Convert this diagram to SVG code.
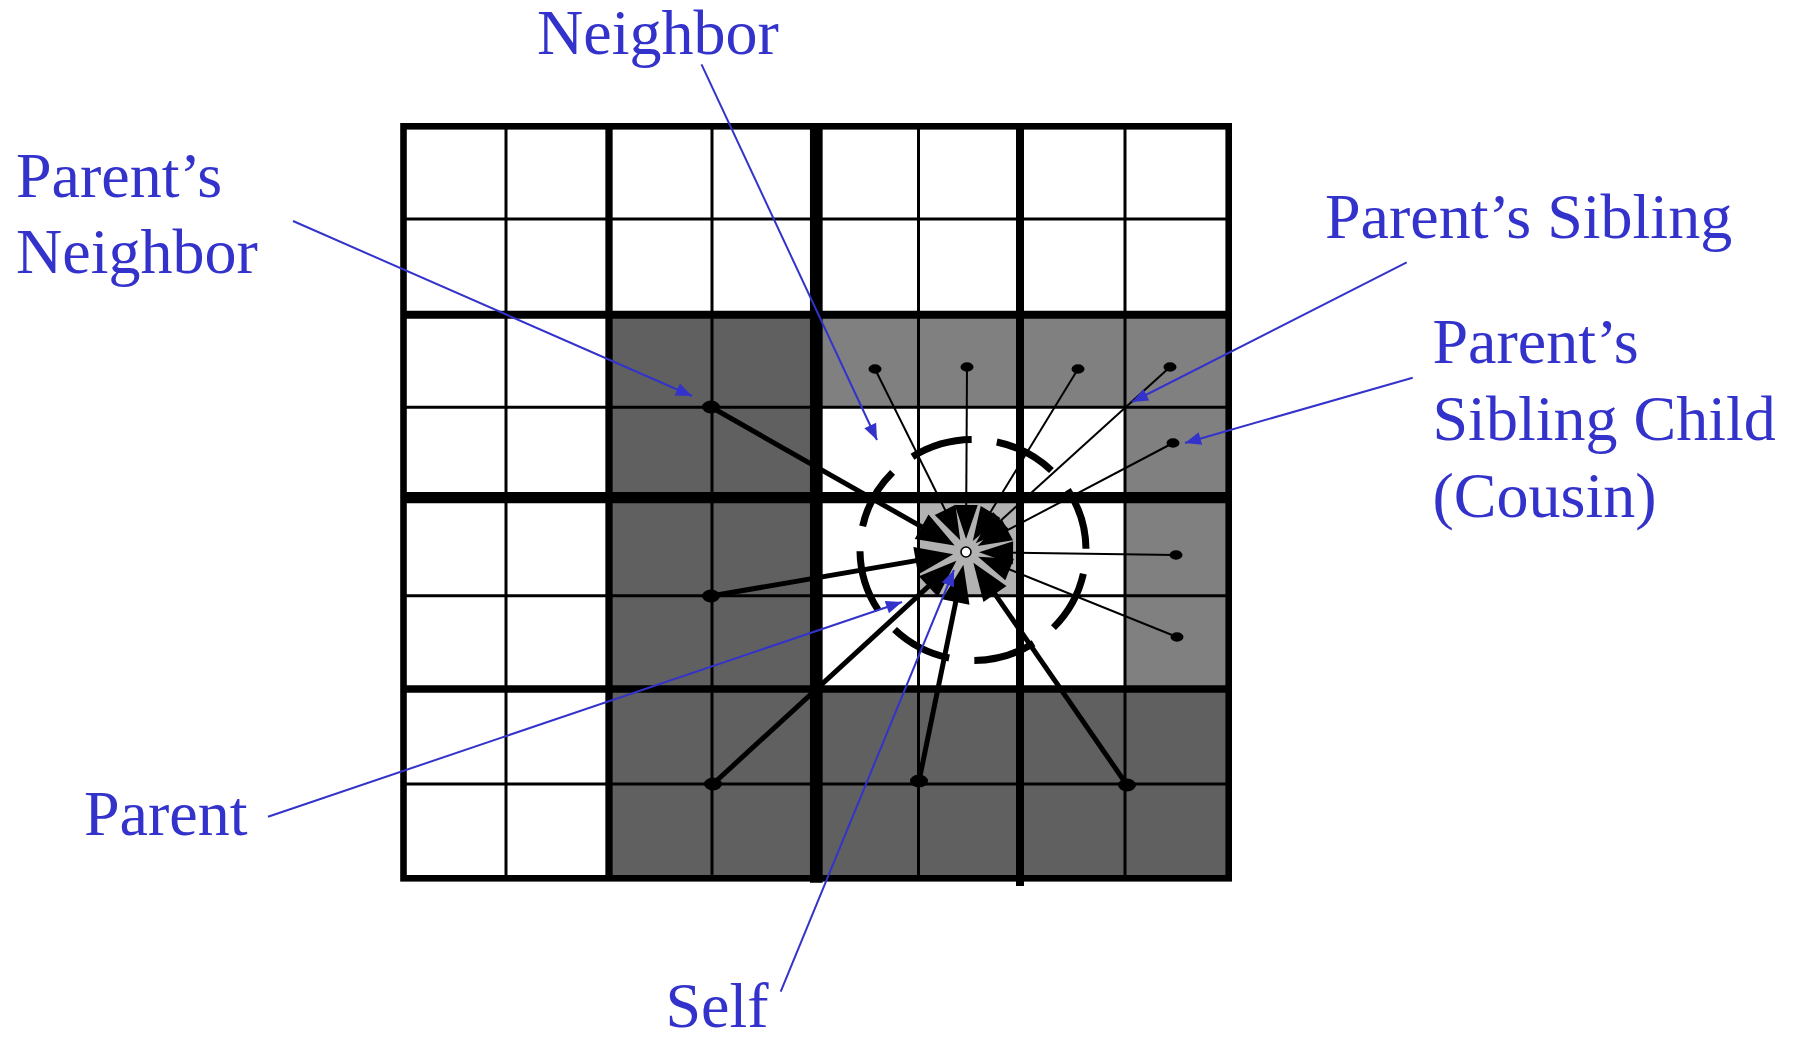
<svg xmlns="http://www.w3.org/2000/svg" width="1798" height="1041" viewBox="0 0 1798 1041">
<style>
.lbl{font-family:"Liberation Serif","Times New Roman",serif;font-size:64px;fill:#3333cc}
.thin{stroke:#000;stroke-width:3}
.blue{stroke:#3333cc;stroke-width:2;fill:none;marker-end:url(#blueArrow)}
.thick{stroke:#000;stroke-width:5;marker-end:url(#bigHead)}
.fine{stroke:#000;stroke-width:2;marker-end:url(#smallHead)}
.dotL{fill:#000}
</style>
<defs>
<marker id="blueArrow" viewBox="-17 -8 18 16" refX="0" refY="0" markerWidth="18" markerHeight="16" markerUnits="userSpaceOnUse" orient="auto" overflow="visible">
<path d="M0,0 L-16,-6.5 L-16,6.5 Z" fill="#3333cc"/>
</marker>
<marker id="bigHead" viewBox="-31 -15 40 30" refX="0" refY="0" markerWidth="40" markerHeight="30" markerUnits="userSpaceOnUse" orient="auto" overflow="visible">
<path d="M8,0 L-30,-14 L-30,14 Z" fill="#000"/>
</marker>
<marker id="smallHead" viewBox="-27 -13 36 26" refX="0" refY="0" markerWidth="36" markerHeight="26" markerUnits="userSpaceOnUse" orient="auto" overflow="visible">
<path d="M8,0 L-26,-11.5 L-26,11.5 Z" fill="#000"/>
</marker>
</defs>
<rect width="1798" height="1041" fill="#fff"/>

<g id="grid">
<rect x="403.5" y="126.3" width="825.2" height="752" fill="#fff"/>
<rect x="609" y="314.7" width="207" height="563.6" fill="#606060"/>
<rect x="816" y="689" width="412.7" height="189.3" fill="#606060"/>
<rect x="816" y="314.7" width="412.7" height="92.6" fill="#808080"/>
<rect x="1125" y="407.3" width="103.7" height="281.7" fill="#808080"/>
<rect x="918.5" y="497.7" width="101.5" height="98" fill="#b2b2b2"/>
<g class="thin">
<line x1="506" y1="126" x2="506" y2="878"/>
<line x1="712" y1="126" x2="712" y2="878"/>
<line x1="918.5" y1="126" x2="918.5" y2="878"/>
<line x1="1125" y1="126" x2="1125" y2="878"/>
<line x1="403" y1="219" x2="1229" y2="219"/>
<line x1="403" y1="407.3" x2="1229" y2="407.3"/>
<line x1="403" y1="595.7" x2="1229" y2="595.7"/>
<line x1="403" y1="784" x2="1229" y2="784"/>
</g>
<line x1="403" y1="314.7" x2="1229" y2="314.7" stroke="#000" stroke-width="8"/>
<line x1="403" y1="497.7" x2="1229" y2="497.7" stroke="#000" stroke-width="11.3"/>
<line x1="403" y1="689" x2="1229" y2="689" stroke="#000" stroke-width="7.7"/>
<line x1="609" y1="126" x2="609" y2="878" stroke="#000" stroke-width="7.3"/>
<line x1="816.3" y1="126" x2="816.3" y2="882.7" stroke="#000" stroke-width="12.7"/>
<line x1="1020" y1="126" x2="1020" y2="886" stroke="#000" stroke-width="8"/>
<rect x="403.5" y="126.3" width="825.2" height="752" fill="none" stroke="#000" stroke-width="6.6"/>
</g>

<g id="range-circle">
<path d="M1086,550 A113,110.5 0 1 1 860,550 A113,110.5 0 1 1 1086,550" pathLength="360" fill="none" stroke="#000" stroke-width="7" stroke-dasharray="32 13" stroke-dashoffset="-12.3"/>
</g>

<g id="connectors">
<line class="thick" x1="711" y1="407" x2="947.7" y2="541.6"/>
<line class="thick" x1="711" y1="596" x2="945.3" y2="555.6"/>
<line class="thick" x1="713" y1="784" x2="950.5" y2="566.2"/>
<line class="thick" x1="919" y1="781" x2="961.8" y2="572.6"/>
<line class="thick" x1="1127" y1="785" x2="977.9" y2="569.3"/>
<line class="fine" x1="875" y1="369" x2="956.7" y2="533.2"/>
<line class="fine" x1="967" y1="367" x2="966.1" y2="531"/>
<line class="fine" x1="1078" y1="369" x2="977" y2="534.1"/>
<line class="fine" x1="1170" y1="367" x2="981.6" y2="537.9"/>
<line class="fine" x1="1173" y1="443" x2="984.6" y2="542.2"/>
<line class="fine" x1="1176" y1="555" x2="987" y2="552.3"/>
<line class="fine" x1="1177" y1="637" x2="985.5" y2="559.8"/>

<line class="blue" x1="293" y1="221" x2="692" y2="396"/>
<line class="blue" x1="701.5" y1="64.3" x2="877" y2="440"/>
<line class="blue" x1="1406.7" y1="262.3" x2="1132" y2="402"/>
<line class="blue" x1="1412.7" y1="377.7" x2="1185" y2="443"/>
<line class="blue" x1="268" y1="816.7" x2="902" y2="602"/>
<line class="blue" x1="780.7" y1="991.7" x2="954" y2="570"/>
</g>

<g id="dots">
<ellipse class="dotL" cx="711" cy="407" rx="9" ry="6.5"/>
<ellipse class="dotL" cx="711" cy="596" rx="9" ry="6.5"/>
<ellipse class="dotL" cx="713" cy="784" rx="9" ry="6.5"/>
<ellipse class="dotL" cx="919" cy="781" rx="9" ry="6.5"/>
<ellipse class="dotL" cx="1127" cy="785" rx="9" ry="6.5"/>
<ellipse class="dotL" cx="875" cy="369" rx="6.5" ry="4.7"/>
<ellipse class="dotL" cx="967" cy="367" rx="6.5" ry="4.7"/>
<ellipse class="dotL" cx="1078" cy="369" rx="6.5" ry="4.7"/>
<ellipse class="dotL" cx="1170" cy="367" rx="6.5" ry="4.7"/>
<ellipse class="dotL" cx="1173" cy="443" rx="6.5" ry="4.7"/>
<ellipse class="dotL" cx="1176" cy="555" rx="6.5" ry="4.7"/>
<ellipse class="dotL" cx="1177" cy="637" rx="6.5" ry="4.7"/>
</g>

<g id="self-node">
<circle cx="966" cy="552" r="5" fill="#fff" stroke="#000" stroke-width="1.6"/>
</g>

<g id="label-neighbor"><text class="lbl" x="537" y="53.5">Neighbor</text></g>
<g id="label-parents-neighbor">
<text class="lbl" x="16" y="196.5">Parent’s</text>
<text class="lbl" x="16" y="273.3">Neighbor</text>
</g>
<g id="label-parents-sibling"><text class="lbl" x="1325" y="238.3">Parent’s Sibling</text></g>
<g id="label-cousin">
<text class="lbl" x="1432.5" y="363.3">Parent’s</text>
<text class="lbl" x="1432.5" y="440">Sibling Child</text>
<text class="lbl" x="1432.5" y="516.7">(Cousin)</text>
</g>
<g id="label-parent"><text class="lbl" x="84" y="835">Parent</text></g>
<g id="label-self"><text class="lbl" x="665.5" y="1027">Self</text></g>
</svg>
